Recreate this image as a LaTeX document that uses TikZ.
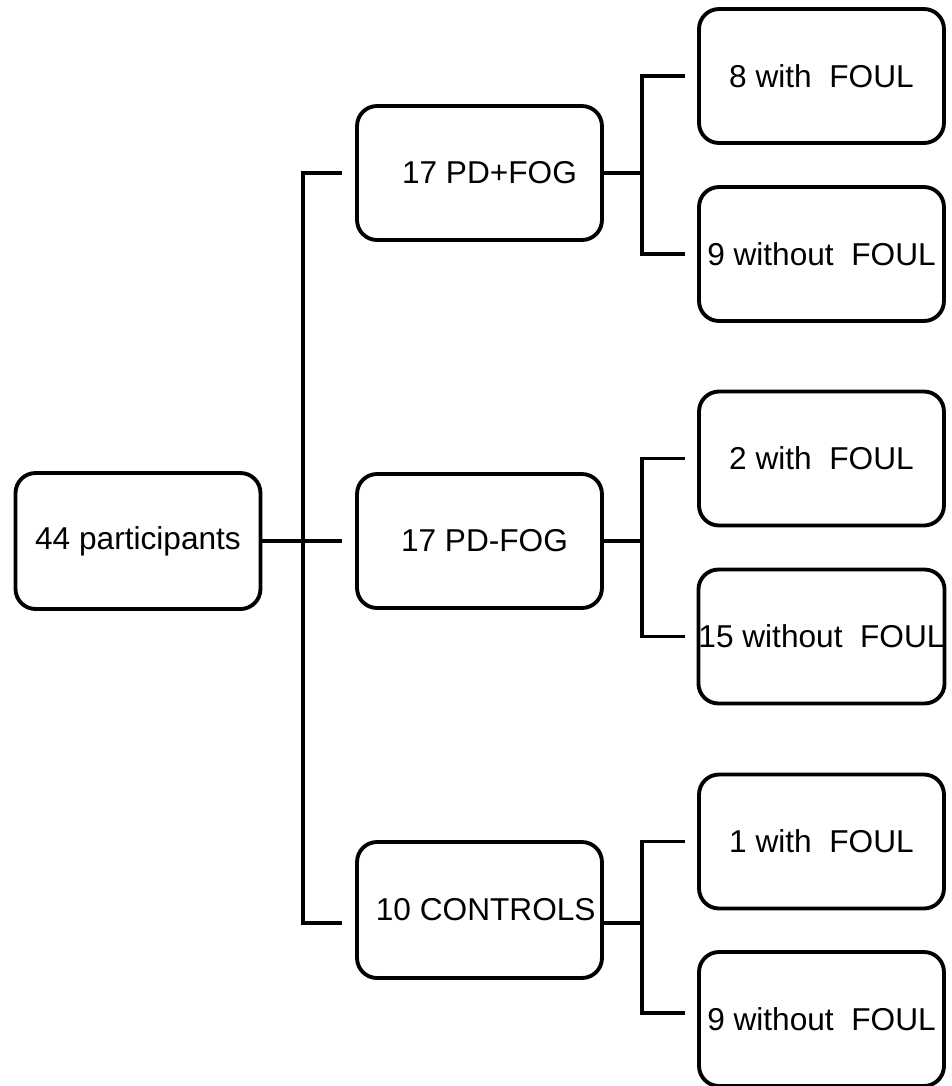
\documentclass[tikz,border=0pt]{standalone}
\usepackage{fontspec}
\setmainfont{Liberation Sans}
\usepackage{tikz}

\begin{document}
\begin{tikzpicture}[x=0.02cm, y=-0.02cm,
    box/.style={draw, line width=2.2pt, rounded corners=0.4cm, inner sep=0pt,
                minimum width=4.9cm, minimum height=2.68cm,
                font=\fontsize{18}{21}\selectfont},
    link/.style={line width=2.2pt}]
    \useasboundingbox (0,0) rectangle (951,1086);
    % Caixa inicial
    \node[box, minimum height=2.72cm] (part) at (138,541) {44 participants};
    % Grupos
    \node[box] (pdfog) at (479.5,173) {\hspace{0.4cm}17 PD+FOG};
    \node[box] (pdnofog) at (479.5,541) {\hspace{0.2cm}17 PD-FOG};
    \node[box, minimum height=2.72cm] (ctrl) at (479.5,910) {\hspace{0.25cm}10 CONTROLS};
    % Subgrupos
    \node[box] (fogw) at (821.5,76) {8 with\ \ FOUL};
    \node[box] (fogwo) at (821.5,254) {9 without\ \ FOUL};
    \node[box] (nofogw) at (821.5,458.5) {2 with\ \ FOUL};
    \node[box] (nofogwo) at (821.5,636.5) {15 without\ \ FOUL};
    \node[box] (ctrlw) at (821.5,841.5) {1 with\ \ FOUL};
    \node[box] (ctrlwo) at (821.5,1019) {9 without\ \ FOUL};
    % Pontos de ligacao
    \coordinate (trunk) at (303,541);
    \coordinate (fork) at (642,541);
    \coordinate (eA) at ([xshift=-0.26cm]pdfog.west);
    \coordinate (eB) at ([xshift=-0.26cm]pdnofog.west);
    \coordinate (eC) at ([xshift=-0.26cm,yshift=-0.26cm]ctrl.west);
    \coordinate (a1) at ([xshift=-0.24cm]fogw.west);
    \coordinate (a2) at ([xshift=-0.24cm]fogwo.west);
    \coordinate (b1) at ([xshift=-0.24cm]nofogw.west);
    \coordinate (b2) at ([xshift=-0.24cm]nofogwo.west);
    \coordinate (c1) at ([xshift=-0.24cm]ctrlw.west);
    \coordinate (c2) at ([xshift=-0.24cm,yshift=0.12cm]ctrlwo.west);
    % Tronco principal
    \draw[link] (part.east) -- (eB);
    \draw[link] (eA) -- (eA -| trunk) -- (eC -| trunk) -- (eC);
    % Ramos
    \draw[link] (pdfog.east) -- (pdfog.east -| fork);
    \draw[link] (a1) -- (a1 -| fork) -- (a2 -| fork) -- (a2);
    \draw[link] (pdnofog.east) -- (pdnofog.east -| fork);
    \draw[link] (b1) -- (b1 -| fork) -- (b2 -| fork) -- (b2);
    \draw[link] ([yshift=-0.26cm]ctrl.east) -- ([yshift=-0.26cm]ctrl.east -| fork);
    \draw[link] (c1) -- (c1 -| fork) -- (c2 -| fork) -- (c2);
\end{tikzpicture}
\end{document}
